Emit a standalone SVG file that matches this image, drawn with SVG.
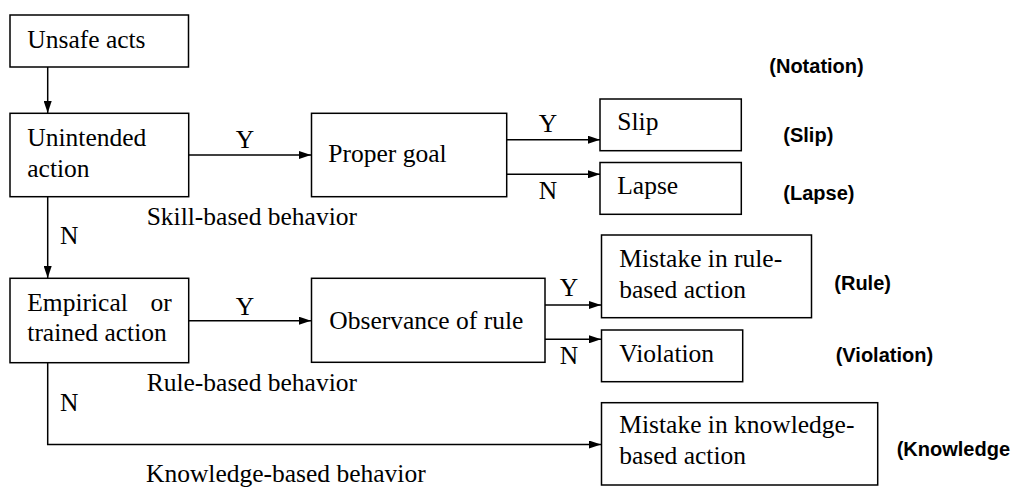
<svg xmlns="http://www.w3.org/2000/svg" width="1015" height="488" viewBox="0 0 1015 488">
<style>
.box{fill:#fff;stroke:#000;stroke-width:1.5}
.t{font-family:"Liberation Serif","Times New Roman",serif;font-size:25.5px;fill:#000}
.lbl{font-family:"Liberation Serif","Times New Roman",serif;font-size:25.5px;fill:#000}
.note{font-family:"Liberation Sans",Arial,sans-serif;font-size:20px;font-weight:bold;fill:#000}
.c{fill:none;stroke:#000;stroke-width:1.5}
</style>
<defs>
<marker id="ah" viewBox="0 0 12 8" refX="12" refY="4" markerWidth="12" markerHeight="8" markerUnits="userSpaceOnUse" orient="auto">
<path d="M0,0 L12,4 L0,8 Z" fill="#000"/>
</marker>
</defs>
<rect width="1015" height="488" fill="#fff"/>
<g id="connectors">
<line class="c" x1="47.7" y1="67" x2="47.7" y2="113" marker-end="url(#ah)"/>
<line class="c" x1="188.7" y1="155" x2="311" y2="155" marker-end="url(#ah)"/>
<line class="c" x1="506.7" y1="139.7" x2="600" y2="139.7" marker-end="url(#ah)"/>
<line class="c" x1="506.7" y1="174.3" x2="600" y2="174.3" marker-end="url(#ah)"/>
<line class="c" x1="47.7" y1="196.7" x2="47.7" y2="278" marker-end="url(#ah)"/>
<line class="c" x1="188.7" y1="320.7" x2="311" y2="320.7" marker-end="url(#ah)"/>
<line class="c" x1="545" y1="305" x2="601" y2="305" marker-end="url(#ah)"/>
<line class="c" x1="545" y1="339.3" x2="601" y2="339.3" marker-end="url(#ah)"/>
<polyline class="c" points="47.7,362.7 47.7,444.5 601,444.5" marker-end="url(#ah)"/>
<text class="lbl" x="245" y="148" text-anchor="middle">Y</text>
<text class="lbl" x="548" y="131.7" text-anchor="middle">Y</text>
<text class="lbl" x="548" y="199" text-anchor="middle">N</text>
<text class="lbl" x="60" y="244.3">N</text>
<text class="lbl" x="245" y="315" text-anchor="middle">Y</text>
<text class="lbl" x="569" y="295.5" text-anchor="middle">Y</text>
<text class="lbl" x="569" y="364.3" text-anchor="middle">N</text>
<text class="lbl" x="60" y="410.7">N</text>
<text class="lbl" x="146.7" y="224.5">Skill-based behavior</text>
<text class="lbl" x="146.7" y="390.7">Rule-based behavior</text>
<text class="lbl" x="146" y="481.5">Knowledge-based behavior</text>
</g>
<g id="unsafe">
<rect class="box" x="10" y="15" width="178.5" height="52"/>
<text class="t" x="27.3" y="48">Unsafe acts</text>
</g>
<g id="unintended">
<rect class="box" x="10" y="113.3" width="178.7" height="83.4"/>
<text class="t"><tspan x="27.3" y="145.7">Unintended</tspan><tspan x="27.3" y="176.5">action</tspan></text>
</g>
<g id="empirical">
<rect class="box" x="10" y="278.3" width="178.7" height="84.4"/>
<text class="t"><tspan x="27.3" y="311">Empirical</tspan><tspan x="171.7" y="311" text-anchor="end">or</tspan><tspan x="27.3" y="341">trained action</tspan></text>
</g>
<g id="proper">
<rect class="box" x="311.5" y="113.3" width="195.2" height="83.4"/>
<text class="t" x="328.3" y="162.3">Proper goal</text>
</g>
<g id="observance">
<rect class="box" x="311.5" y="278.3" width="233.5" height="84"/>
<text class="t" x="329.3" y="328.8">Observance of rule</text>
</g>
<g id="slip">
<rect class="box" x="600" y="99" width="141.3" height="51.7"/>
<text class="t" x="617.3" y="130">Slip</text>
</g>
<g id="lapse">
<rect class="box" x="600" y="162.5" width="141.3" height="51.8"/>
<text class="t" x="617.3" y="194">Lapse</text>
</g>
<g id="mistake-rule">
<rect class="box" x="601.5" y="235" width="210" height="82.7"/>
<text class="t"><tspan x="619.3" y="266.7">Mistake in rule-</tspan><tspan x="619.3" y="297.7">based action</tspan></text>
</g>
<g id="violation">
<rect class="box" x="601.5" y="330" width="141.2" height="51.7"/>
<text class="t" x="619.3" y="362.3">Violation</text>
</g>
<g id="mistake-knowledge">
<rect class="box" x="601.5" y="402.7" width="276.2" height="82.3"/>
<text class="t"><tspan x="619.3" y="433.3">Mistake in knowledge-</tspan><tspan x="619.3" y="464.3">based action</tspan></text>
</g>
<g id="notation">
<text class="note" x="769.3" y="73.3">(Notation)</text>
<text class="note" x="783.3" y="141.7">(Slip)</text>
<text class="note" x="783.3" y="200">(Lapse)</text>
<text class="note" x="834.3" y="290">(Rule)</text>
<text class="note" x="835.7" y="361.7">(Violation)</text>
<text class="note" x="896.7" y="455.7">(Knowledge</text>
</g>
</svg>
